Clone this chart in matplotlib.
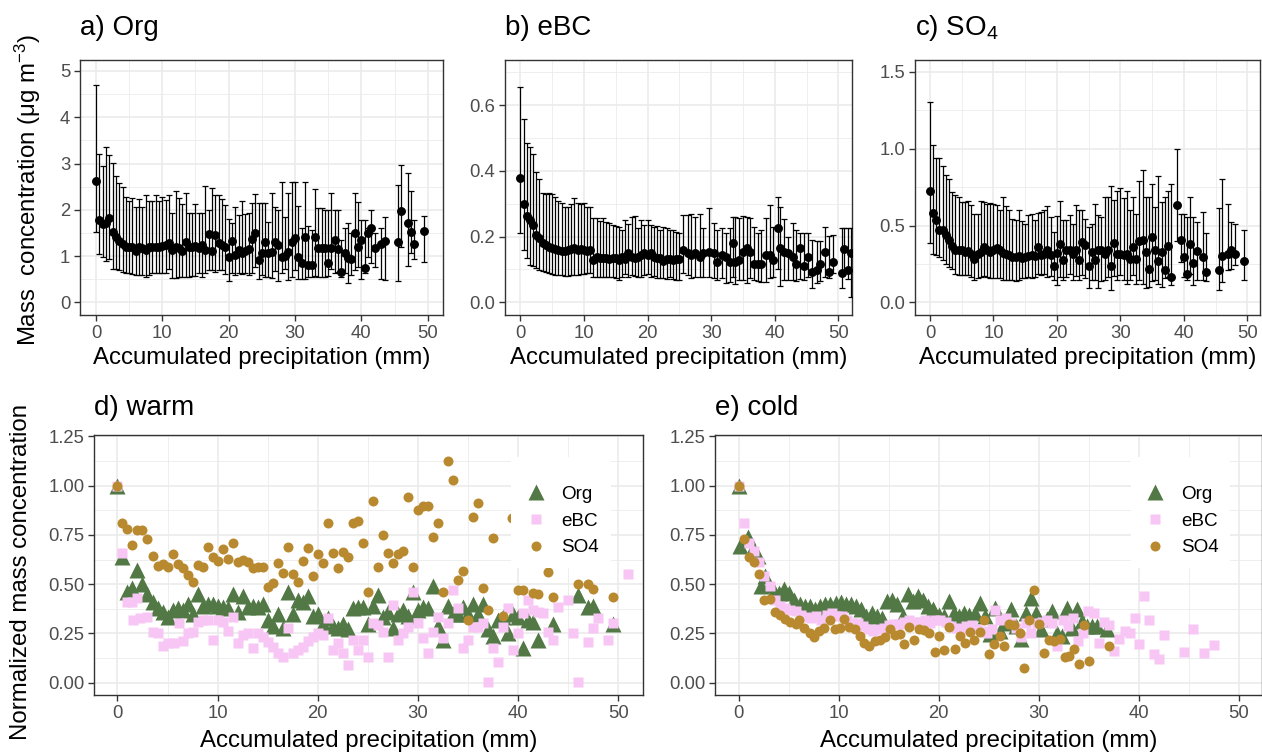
import matplotlib
matplotlib.use('Agg')
import numpy as np
import matplotlib.pyplot as plt
from matplotlib.patches import Rectangle
from matplotlib.ticker import MultipleLocator, FormatStrFormatter

plt.rcParams['font.family'] = ['Liberation Sans', 'DejaVu Sans']
plt.rcParams['mathtext.fontset'] = 'custom'
plt.rcParams['mathtext.rm'] = 'Liberation Sans'
plt.rcParams['mathtext.it'] = 'Liberation Sans:italic'

# ---------------- data: a) Org ----------------
a_x = [0, 0.5, 1, 1.5, 2, 2.5, 3, 3.5, 4, 4.5,
       5, 5.5, 6, 6.5, 7, 7.5, 8, 8.5, 9, 9.5,
       10, 10.5, 11, 11.5, 12, 12.5, 13, 13.5, 14, 14.5,
       15, 15.5, 16, 16.5, 17, 17.5, 18, 18.5, 19, 19.5,
       20, 20.5, 21, 21.5, 22, 22.5, 23, 23.5, 24, 24.5,
       25, 25.5, 26, 26.5, 27, 27.5, 28, 28.5, 29, 29.5,
       30, 30.5, 31, 31.5, 32, 32.5, 33, 33.5, 34, 34.5,
       35, 35.5, 36, 36.5, 37, 37.5, 38, 38.5, 39, 39.5,
       40, 40.5, 41, 41.5, 42, 43, 43.5, 45.5, 46, 47,
       47.5, 48, 49.5]
a_mean = [2.63, 1.77, 1.69, 1.72, 1.82, 1.53, 1.42, 1.33, 1.26, 1.20,
          1.19, 1.19, 1.10, 1.20, 1.17, 1.13, 1.20, 1.20, 1.19, 1.20,
          1.22, 1.24, 1.28, 1.13, 1.20, 1.17, 1.10, 1.31, 1.19, 1.19,
          1.22, 1.17, 1.24, 1.13, 1.48, 1.10, 1.46, 1.29, 1.24, 1.19,
          0.99, 1.33, 1.02, 1.13, 1.06, 1.10, 1.15, 1.36, 1.49, 0.91,
          1.06, 1.31, 1.07, 1.08, 1.31, 1.24, 0.99, 1.00, 1.09, 1.31,
          1.38, 0.99, 0.86, 1.42, 0.81, 0.81, 1.42, 1.17, 1.17, 1.17,
          0.86, 1.17, 1.35, 1.15, 0.66, 1.06, 0.95, 0.93, 1.49, 1.19,
          1.35, 0.75, 1.49, 1.61, 1.17, 1.25, 1.33, 1.31, 1.98, 1.72,
          1.51, 1.25, 1.55]
a_lo = [1.53, 1.04, 0.99, 0.90, 0.93, 0.73, 0.71, 0.70, 0.66, 0.64,
        0.63, 0.61, 0.59, 0.58, 0.59, 0.54, 0.59, 0.63, 0.64, 0.64,
        0.63, 0.64, 0.71, 0.52, 0.52, 0.54, 0.55, 0.55, 0.55, 0.57,
        0.57, 0.63, 0.55, 0.64, 0.70, 0.70, 0.66, 0.70, 0.70, 0.61,
        0.47, 0.63, 0.59, 0.63, 0.61, 0.63, 0.59, 0.64, 0.76, 0.50,
        0.59, 0.55, 0.55, 0.52, 0.68, 0.47, 0.63, 0.73, 0.48, 0.55,
        0.70, 0.50, 0.50, 0.50, 0.54, 0.54, 0.57, 0.55, 0.55, 0.55,
        0.57, 0.73, 0.64, 0.66, 0.55, 0.64, 0.41, 0.60, 0.70, 0.77,
        0.50, 0.64, 0.99, 0.84, 0.77, 0.50, 0.48, 0.47, 1.20, 0.79,
        1.06, 0.93, 0.88]
a_hi = [4.70, 3.21, 2.95, 3.35, 3.18, 3.02, 2.73, 2.57, 2.50, 2.28,
        2.18, 2.25, 2.05, 2.23, 2.07, 2.32, 2.19, 2.18, 2.32, 2.18,
        2.28, 2.21, 2.32, 1.92, 2.41, 2.25, 2.13, 2.36, 1.94, 1.94,
        2.13, 1.94, 1.94, 2.51, 2.00, 2.46, 2.32, 2.32, 2.23, 2.10,
        1.79, 1.71, 2.07, 1.89, 2.18, 1.91, 1.94, 2.15, 2.34, 2.15,
        2.14, 2.14, 1.74, 2.36, 2.07, 2.00, 2.61, 1.85, 2.36, 2.61,
        2.61, 2.08, 1.60, 2.61, 1.64, 1.56, 2.44, 2.04, 2.04, 2.00,
        2.00, 2.36, 2.00, 2.00, 1.35, 1.60, 1.71, 1.50, 2.37, 2.17,
        1.78, 1.78, 1.60, 2.00, 1.49, 1.60, 1.85, 2.54, 2.97, 2.80,
        2.41, 1.78, 1.87]

# ---------------- data: b) eBC ----------------
b_x = [0, 0.5, 1, 1.5, 2, 2.5, 3, 3.5, 4, 4.5,
       5, 5.5, 6, 6.5, 7, 7.5, 8, 8.5, 9, 9.5,
       10, 10.5, 11, 11.5, 12, 12.5, 13, 13.5, 14, 14.5,
       15, 15.5, 16, 16.5, 17, 17.5, 18, 18.5, 19, 19.5,
       20, 20.5, 21, 21.5, 22, 22.5, 23, 23.5, 24, 24.5,
       25,
       25.6, 26.3, 26.9, 27.5, 28.2, 28.8, 29.6, 30.4, 31.0, 31.7,
       32.3, 33.0, 33.5, 33.8, 34.4, 35.0, 35.6, 36.1, 36.7, 37.4,
       37.9, 38.6, 39.3, 39.8, 40.5, 40.8, 41.5, 42.1, 42.8, 43.4,
       44.0, 44.6, 45.3, 45.9, 46.6, 47.1, 47.9, 48.6, 49.1, 50.5,
       50.9, 51.5, 52.0]
b_mean = [.379, .299, .262, .250, .235, .205, .195, .179, .174, .169,
          .164, .161, .159, .156, .156, .159, .161, .164, .159, .161,
          .159, .157, .159, .129, .139, .134, .134, .134, .131, .134,
          .134, .129, .137, .131, .151, .139, .134, .139, .144, .149,
          .144, .151, .139, .134, .134, .127, .131, .131, .129, .131,
          .131,
          .159, .149, .144, .149, .139, .149, .154, .149, .124, .144,
          .139, .124, .179, .124, .129, .154, .164, .154, .116, .116,
          .116, .144, .144, .129, .227, .164, .154, .149, .139, .116,
          .164, .110, .139, .093, .098, .118, .154, .093, .124, .089,
          .163, .097, .150]
b_lo = [.212, .159, .134, .114, .110, .103, .098, .096, .093, .090,
        .086, .083, .083, .083, .080, .080, .083, .083, .083, .086,
        .086, .088, .088, .078, .078, .076, .076, .076, .076, .078,
        .073, .068, .078, .086, .078, .083, .080, .078, .076, .083,
        .086, .078, .080, .073, .073, .073, .070, .078, .070, .068,
        .068,
        .088, .083, .073, .076, .078, .076, .078, .073, .068, .073,
        .060, .063, .076, .055, .068, .068, .058, .073, .068, .066,
        .063, .063, .073, .078, .100, .050, .068, .068, .068, .066,
        .070, .068, .078, .043, .058, .066, .078, .073, .090, .043,
        .090, .070, .015]
b_hi = [.656, .556, .485, .473, .451, .397, .374, .331, .329, .333,
        .329, .321, .309, .301, .291, .291, .299, .316, .301, .299,
        .303, .291, .289, .255, .255, .248, .255, .245, .240, .235,
        .232, .230, .220, .250, .238, .260, .262, .225, .250, .235,
        .250, .235, .228, .232, .220, .230, .225, .220, .220, .215,
        .210,
        .265, .265, .268, .260, .270, .225, .286, .242, .220, .225,
        .212, .225, .260, .260, .255, .262, .260, .255, .230, .210,
        .220, .255, .296, .230, .319, .291, .252, .200, .240, .220,
        .210, .212, .212, .190, .185, .185, .230, .203, .205, .225,
        .225, .225, .225]

# ---------------- data: c) SO4 ----------------
c_x = [0, 0.5, 1, 1.5, 2, 2.5, 3, 3.5, 4, 4.5,
       5, 5.5, 6, 6.5, 7, 7.5, 8, 8.5, 9, 9.5,
       10, 10.5, 11, 11.5, 12, 12.5, 13, 13.5, 14, 14.5,
       15, 15.5, 16, 16.5, 17, 17.5, 18, 18.5, 19, 19.5,
       20, 20.5, 21, 21.5, 22, 22.5, 23, 23.5, 24, 24.5,
       25, 25.5, 26, 26.5, 27, 27.5, 28, 28.5, 29, 29.5,
       30, 30.5, 31, 31.5, 32, 32.5, 33, 33.5, 34, 34.5,
       35, 35.5, 36, 36.5, 37, 37.5, 38,
       39, 39.5, 40, 40.5, 41, 41.5, 42, 43, 43.5, 45.5,
       46, 47, 47.5, 48, 49.5]
c_mean = [.724, .581, .534, .469, .469, .437, .404, .365, .344, .339,
          .339, .329, .335, .313, .285, .313, .329, .361, .339, .329,
          .339, .357, .339, .322, .318, .307, .296, .296, .300, .292,
          .296, .300, .307, .300, .361, .307, .318, .344, .307, .236,
          .322, .383, .275, .339, .344, .318, .344, .279, .393, .372,
          .236, .329, .279, .339, .344, .318, .344, .236, .387, .313,
          .318, .307, .318, .285, .361, .285, .400, .404, .329, .220,
          .426, .339, .270, .329, .214, .365, .166,
          .631, .408, .296, .188, .383, .259, .333, .296, .199, .214,
          .300, .313, .339, .313, .270]
c_lo = [.387, .313, .307, .296, .274, .249, .231, .220, .184, .177,
        .177, .177, .177, .166, .149, .156, .166, .171, .166, .156,
        .162, .156, .162, .149, .149, .145, .145, .140, .145, .156,
        .156, .166, .162, .166, .184, .177, .184, .166, .171, .145,
        .112, .166, .149, .166, .188, .145, .171, .145, .177, .162,
        .097, .145, .149, .097, .140, .149, .166, .084, .171, .145,
        .177, .145, .123, .145, .177, .123, .145, .123, .097, .102,
        .140, .145, .123, .102, .162, .166, .112,
        .400, .264, .166, .145, .184, .112, .145, .145, .140, .084,
        .134, .210, .220, .242, .149]
c_hi = [1.305, 1.024, .940, .940, .890, .832, .804, .718, .702, .689,
        .653, .653, .659, .631, .573, .573, .659, .653, .638, .646,
        .638, .631, .603, .685, .625, .599, .545, .538, .603, .530,
        .508, .566, .573, .534, .581, .588, .599, .625, .555, .458,
        .560, .659, .534, .538, .566, .512, .631, .599, .603, .545,
        .491, .512, .638, .566, .555, .685, .689, .761, .664, .728,
        .746, .681, .728, .599, .685, .577, .793, .862, .685, .685,
        .772, .620, .826, .653, .685, .728, .772,
        .998, .577, .577, .555, .685, .555, .523, .588, .452, .616,
        .804, .642, .523, .512, .473]

# ---------------- data: d) warm (normalized) ----------------
d_org_x = [0, 0.5, 1, 1.5, 2, 2.5, 3, 3.5, 4, 4.5,
           5, 5.5, 6, 6.5, 7, 7.5, 8, 8.5, 9, 9.5,
           10, 10.5, 11, 11.5, 12, 12.5, 13, 13.5, 14, 14.5,
           15, 15.5, 16, 16.5, 17, 17.5, 18, 18.5, 19, 19.5,
           20, 20.5, 21, 21.5, 22, 22.5, 23, 23.5, 24, 24.5,
           25, 25.5, 26, 26.5, 27, 27.5, 28, 28.5, 29, 29.5,
           30, 30.5, 31, 31.5, 32, 32.5, 33, 33.5, 34, 34.5,
           35, 35.5, 36, 36.5, 37, 37.5, 38, 38.5, 39, 39.5,
           40, 40.5, 41, 41.5, 42,
           43.5, 46, 47, 47.5, 49.5]
d_org_y = [1.00, 0.64, 0.46, 0.48, 0.57, 0.50, 0.45, 0.41, 0.38, 0.36,
           0.335, 0.37, 0.38, 0.37, 0.40, 0.35, 0.45, 0.39, 0.40, 0.40,
           0.39, 0.385, 0.38, 0.45, 0.36, 0.44, 0.385, 0.39, 0.385, 0.40,
           0.32, 0.29, 0.35, 0.28, 0.46, 0.35, 0.42, 0.41, 0.44, 0.34,
           0.35, 0.30, 0.33, 0.29, 0.28, 0.30, 0.275, 0.38, 0.385, 0.385,
           0.30, 0.39, 0.445, 0.335, 0.36, 0.28, 0.35, 0.37, 0.34, 0.46,
           0.37, 0.385, 0.38, 0.49, 0.29, 0.215, 0.39, 0.35, 0.35, 0.385,
           0.35, 0.40, 0.35, 0.40, 0.275, 0.235, 0.32, 0.335, 0.25, 0.35,
           0.335, 0.175, 0.32, 0.31, 0.215,
           0.30, 0.445, 0.385, 0.39, 0.30]
d_ebc_x = [0, 0.5, 1.0, 1.5, 2.0, 1.57, 2.21, 2.93, 3.57, 4.07,
           4.54, 5.07, 5.64, 6.14, 6.57, 7.04, 7.57, 8.0, 8.57, 9.07,
           9.54, 10.0, 10.5, 11.0, 11.5, 12.0, 12.5, 13.0, 13.5, 14.0,
           14.5, 15.07, 15.5, 16.0, 16.5, 17.0, 17.5, 18.0, 18.5, 19.0,
           19.5, 20.0, 20.5, 21.0, 21.5, 22.0, 22.5, 23.0, 23.5, 24.0,
           24.5, 25.0, 25.5, 26.0, 26.5, 27.0, 27.5, 28.0, 28.5, 29.0,
           29.5, 30.0, 30.5, 31.0, 31.5, 32.0, 32.5, 33.0, 33.5, 34.0,
           34.5, 35.0, 35.5, 36.0, 36.5, 37.0, 37.5, 38.0, 38.5, 39.0,
           39.5, 40.0, 40.5, 41.0, 41.5, 42.0, 42.5, 43.0, 43.5, 44.0,
           45.0, 45.5, 46.0, 47.0, 47.5, 48.0, 49.0, 49.5, 50.96]
d_ebc_y = [1.00, 0.657, 0.411, 0.411, 0.428, 0.318, 0.327, 0.335, 0.259, 0.250,
           0.186, 0.200, 0.203, 0.301, 0.213, 0.250, 0.259, 0.310, 0.318, 0.318,
           0.217, 0.318, 0.310, 0.264, 0.335, 0.200, 0.242, 0.250, 0.174, 0.250,
           0.234, 0.208, 0.183, 0.149, 0.132, 0.276, 0.149, 0.166, 0.183, 0.213,
           0.234, 0.250, 0.242, 0.327, 0.166, 0.200, 0.152, 0.090, 0.217, 0.166,
           0.217, 0.132, 0.301, 0.293, 0.259, 0.129, 0.394, 0.217, 0.250, 0.284,
           0.462, 0.301, 0.225, 0.149, 0.259, 0.335, 0.225, 0.301, 0.470, 0.377,
           0.174, 0.217, 0.284, 0.284, 0.301, 0.005, 0.174, 0.107, 0.284, 0.377,
           0.166, 0.250, 0.352, 0.420, 0.369, 0.360, 0.355, 0.259, 0.217, 0.386,
           0.420, 0.250, 0.005, 0.208, 0.276, 0.327, 0.217, 0.301, 0.552]
d_so4_x = [0, 0.5, 1.0, 1.5, 2.0, 2.5, 3.0, 3.5, 4.0, 4.5,
           5.0, 5.5, 6.0, 6.5, 7.0, 7.5, 8.0, 8.5, 9.0, 9.5,
           10.0, 10.5, 11.0, 11.5, 12.0, 12.5, 13.0, 13.5, 14.0, 14.5,
           15.0, 15.5, 16.0, 16.5, 17.0, 17.5, 18.0, 18.5, 19.0, 19.5,
           20.0, 20.5, 21.0, 21.5, 22.0, 22.5, 23.0, 23.5, 24.0, 24.5,
           25.0, 25.5, 26.0, 26.5, 27.0, 27.5, 28.0, 28.5, 29.0, 29.5,
           30.0, 30.5, 31.0, 31.5, 32.0, 32.5, 33.0, 33.5, 34.0, 34.5,
           35.0, 35.5, 36.0, 36.5, 37.0, 37.5, 38.5, 39.4, 40.0, 40.5,
           41.5, 42.0, 43.0, 43.5, 46.0, 47.0, 47.5, 49.5]
d_so4_y = [1.00, 0.812, 0.778, 0.699, 0.775, 0.775, 0.728, 0.643, 0.592, 0.602,
           0.589, 0.651, 0.602, 0.580, 0.547, 0.513, 0.597, 0.585, 0.690, 0.636,
           0.619, 0.677, 0.626, 0.711, 0.614, 0.623, 0.614, 0.580, 0.589, 0.585,
           0.487, 0.508, 0.606, 0.555, 0.687, 0.552, 0.513, 0.619, 0.682, 0.541,
           0.653, 0.609, 0.809, 0.657, 0.580, 0.665, 0.640, 0.809, 0.822, 0.707,
           0.459, 0.922, 0.589, 0.750, 0.660, 0.606, 0.653, 0.670, 0.944, 0.589,
           0.876, 0.897, 0.897, 0.741, 0.809, 0.462, 1.125, 1.029, 0.521, 0.569,
           0.318, 0.843, 0.910, 0.479, 0.369, 0.736, 0.340, 0.834, 0.470, 0.470,
           0.457, 0.450, 0.563, 0.433, 0.499, 0.499, 0.474, 0.433]

# ---------------- data: e) cold (normalized) ----------------
e_org_x = [0, 0.15, 0.99, 1.47, 1.99, 2.21, 2.65, 3.01, 3.57, 4.04,
           4.56, 5.07, 5.59, 6.10, 6.62, 7.13, 7.65, 8.16, 8.68, 9.19,
           9.71, 10.22, 10.74, 11.25, 11.76, 12.28, 12.79, 13.31, 13.82, 14.34,
           14.85, 15.37, 15.88, 16.40, 16.91, 17.43, 17.94, 18.46, 18.97, 19.49,
           20.0, 20.51, 21.03, 21.54, 22.06, 22.57, 23.09, 23.60, 24.12, 24.63,
           25.15, 25.66, 26.18, 26.69, 27.21, 27.72, 28.24, 28.75, 29.26, 29.78,
           30.29, 30.81, 31.32, 31.84, 32.35, 32.87, 33.31, 33.82, 34.34, 34.85,
           35.37, 35.88, 36.84]
e_org_y = [1.00, 0.693, 0.740, 0.684, 0.642, 0.490, 0.541, 0.498, 0.465, 0.456,
           0.473, 0.456, 0.422, 0.397, 0.389, 0.389, 0.375, 0.389, 0.397, 0.397,
           0.405, 0.409, 0.397, 0.397, 0.389, 0.372, 0.338, 0.355, 0.338, 0.329,
           0.414, 0.422, 0.397, 0.338, 0.448, 0.414, 0.439, 0.422, 0.389, 0.372,
           0.346, 0.338, 0.414, 0.355, 0.338, 0.355, 0.346, 0.355, 0.405, 0.338,
           0.245, 0.380, 0.262, 0.304, 0.372, 0.287, 0.220, 0.355, 0.431, 0.355,
           0.270, 0.321, 0.363, 0.253, 0.236, 0.380, 0.279, 0.372, 0.313, 0.287,
           0.287, 0.287, 0.270]
e_ebc_x = [0, 0.52, 1.04, 1.55, 2.07, 2.59, 3.11, 3.62, 4.14, 4.66,
           5.18, 5.70, 6.21, 6.73, 7.25, 7.77, 8.28, 8.80, 9.32, 9.84,
           10.36, 10.87, 11.39, 11.91, 12.43, 12.94, 13.46, 13.98, 14.50, 15.01,
           15.53, 16.05, 16.57, 17.09, 17.60, 18.12, 18.64, 19.16, 19.67, 20.19,
           20.71, 21.23, 21.75, 22.26, 22.78, 23.30, 23.82, 24.33, 24.85, 25.37,
           25.67, 26.18, 26.70, 27.22, 27.74, 28.25, 28.77, 29.29, 29.81, 30.33,
           30.84, 31.36, 31.88, 32.40, 32.91, 33.43, 33.95, 34.47, 34.99, 35.50,
           36.02, 36.54, 37.06, 37.57, 38.09, 38.61, 39.13, 39.64, 40.01, 40.53,
           41.05, 41.57, 42.09, 42.53, 44.53, 45.49, 46.52, 47.56]
e_ebc_y = [1.00, 0.81, 0.71, 0.67, 0.61, 0.54, 0.49, 0.42, 0.39, 0.38,
           0.37, 0.365, 0.345, 0.335, 0.33, 0.34, 0.32, 0.345, 0.355, 0.34,
           0.34, 0.32, 0.305, 0.305, 0.29, 0.27, 0.26, 0.275, 0.28, 0.295,
           0.30, 0.30, 0.31, 0.32, 0.31, 0.31, 0.32, 0.305, 0.32, 0.32,
           0.31, 0.29, 0.28, 0.27, 0.29, 0.295, 0.27, 0.26, 0.25, 0.27,
           0.37, 0.32, 0.33, 0.305, 0.28, 0.23, 0.305, 0.25, 0.305, 0.31,
           0.32, 0.305, 0.185, 0.32, 0.29, 0.33, 0.21, 0.25, 0.365, 0.355,
           0.20, 0.31, 0.295, 0.16, 0.22, 0.26, 0.25, 0.33, 0.195, 0.44,
           0.32, 0.145, 0.12, 0.24, 0.155, 0.275, 0.15, 0.19]
e_so4_x = [0, 0.52, 1.04, 1.55, 2.07, 2.59, 3.11, 3.62, 4.14, 4.66,
           5.18, 5.70, 6.07, 6.58, 7.10, 7.54, 8.06, 8.58, 9.10, 9.62,
           10.13, 10.58, 11.09, 11.61, 12.13, 12.57, 13.09, 13.61, 14.13, 14.64,
           15.16, 15.61, 16.12, 16.57, 17.01, 17.53, 18.05, 18.57, 19.08, 19.60,
           20.04, 20.56, 21.08, 21.60, 22.12, 22.63, 23.15, 23.59, 24.11, 24.56,
           25.07, 25.59, 26.11, 26.55, 27.07, 27.59, 28.11, 28.55, 29.07, 29.59,
           30.03, 30.55, 31.07, 31.58, 32.10, 32.62, 33.06, 33.58, 34.02, 34.54,
           35.06, 37.06]
e_so4_y = [1.00, 0.73, 0.64, 0.61, 0.55, 0.42, 0.425, 0.36, 0.345, 0.325,
           0.31, 0.30, 0.32, 0.28, 0.25, 0.23, 0.26, 0.28, 0.32, 0.27,
           0.28, 0.325, 0.285, 0.275, 0.235, 0.20, 0.185, 0.21, 0.215, 0.23,
           0.27, 0.24, 0.245, 0.195, 0.285, 0.215, 0.27, 0.265, 0.25, 0.155,
           0.235, 0.165, 0.285, 0.17, 0.235, 0.20, 0.255, 0.215, 0.255, 0.32,
           0.145, 0.195, 0.235, 0.185, 0.30, 0.295, 0.25, 0.075, 0.32, 0.47,
           0.30, 0.15, 0.215, 0.21, 0.22, 0.13, 0.135, 0.17, 0.095, 0.295,
           0.11, 0.185]

legend_labels = ['Org', 'eBC', 'SO4']
x_title = 'Accumulated precipitation (mm)'

# ---------------- figure ----------------
W, H = 1262, 752
fig = plt.figure(figsize=(W / 100, H / 100), dpi=100)


def px_axes(l, t, r, b):
    return fig.add_axes([l / W, 1 - b / H, (r - l) / W, (b - t) / H])


GRID = '#ebebeb'
TXT = '#4d4d4d'
BORDER = '#333333'
C_ORG = '#517845'
C_EBC = '#f7c6f4'
C_SO4 = '#b8892f'


def style(ax, xlim, ylim, ymaj, fmt):
    ax.set_xlim(xlim)
    ax.set_ylim(ylim)
    ax.xaxis.set_major_locator(MultipleLocator(10))
    ax.xaxis.set_minor_locator(MultipleLocator(5))
    ax.yaxis.set_major_locator(MultipleLocator(ymaj))
    ax.yaxis.set_minor_locator(MultipleLocator(ymaj / 2))
    ax.yaxis.set_major_formatter(FormatStrFormatter(fmt))
    ax.grid(True, which='major', color=GRID, lw=1.2)
    ax.grid(True, which='minor', color=GRID, lw=0.6)
    ax.set_axisbelow(True)
    for s in ax.spines.values():
        s.set_color(BORDER)
        s.set_linewidth(1.0)
    ax.tick_params(which='major', length=4, width=1.0, color=BORDER,
                   labelcolor=TXT, labelsize=13.3, pad=3)
    ax.tick_params(which='minor', length=0)


def errpanel(ax, x, m, lo, hi):
    m = np.asarray(m)
    yerr = [m - np.asarray(lo), np.asarray(hi) - m]
    ax.errorbar(x, m, yerr=yerr, fmt='o', color='black', ms=5.4,
                elinewidth=0.9, capsize=1.9, capthick=0.9, zorder=3)


# top row
axa = px_axes(80, 60, 443, 315)
style(axa, (-2.41, 52.31), (-0.274, 5.237), 1, '%d')
errpanel(axa, a_x, a_mean, a_lo, a_hi)

axb = px_axes(505, 60, 852, 315)
style(axb, (-2.41, 52.15), (-0.0386, 0.7369), 0.2, '%.1f')
errpanel(axb, b_x, b_mean, b_lo, b_hi)

axc = px_axes(915, 60, 1260, 315)
style(axc, (-2.36, 52.0), (-0.082, 1.578), 0.5, '%.1f')
errpanel(axc, c_x, c_mean, c_lo, c_hi)


def normpanel(ax, ox, oy, bx, by, sx, sy):
    h1, = ax.plot(ox, oy, ls='none', marker='^', ms=11, color=C_ORG, mec='none', zorder=3)
    h2, = ax.plot(bx, by, ls='none', marker='s', ms=7.4, color=C_EBC, mec='none', zorder=3)
    h3, = ax.plot(sx, sy, ls='none', marker='o', ms=7.2, color=C_SO4, mec='none', zorder=3)
    ax.add_patch(Rectangle((0.760, 0.488), 0.182, 0.427, transform=ax.transAxes,
                           facecolor='white', edgecolor='none', zorder=4))
    leg = ax.legend([h1, h2, h3], legend_labels, loc='upper left',
                    bbox_to_anchor=(0.788, 0.805), frameon=False, fontsize=13.6,
                    handlelength=1.0, handletextpad=0.85, labelspacing=0.5,
                    borderpad=0, borderaxespad=0)
    leg.set_zorder(5)


axd = px_axes(94, 435, 643, 695)
style(axd, (-2.34, 52.46), (-0.0624, 1.257), 0.25, '%.2f')
normpanel(axd, d_org_x, d_org_y, d_ebc_x, d_ebc_y, d_so4_x, d_so4_y)

axe = px_axes(715, 435, 1262, 695)
style(axe, (-2.35, 52.35), (-0.0624, 1.257), 0.25, '%.2f')
normpanel(axe, e_org_x, e_org_y, e_ebc_x, e_ebc_y, e_so4_x, e_so4_y)

# titles
TS = 20
fig.text(80 / W, 1 - 28 / H, 'a) Org', fontsize=TS, ha='left', va='center')
fig.text(505 / W, 1 - 28 / H, 'b) eBC', fontsize=TS, ha='left', va='center')
fig.text(915 / W, 1 - 28 / H, 'c) SO$_4$', fontsize=TS, ha='left', va='center')
fig.text(94 / W, 1 - 408 / H, 'd) warm', fontsize=TS, ha='left', va='center')
fig.text(715 / W, 1 - 408 / H, 'e) cold', fontsize=TS, ha='left', va='center')

# axis titles
AS = 17.3
for l, r in [(80, 443), (505, 852), (915, 1260)]:
    fig.text((l + r) / 2 / W, 1 - 358 / H, x_title, fontsize=AS, ha='center', va='center')
for l, r in [(94, 643), (715, 1262)]:
    fig.text((l + r) / 2 / W, 1 - 741 / H, x_title, fontsize=AS, ha='center', va='center')
fig.text(28 / W, 1 - 190 / H, 'Mass  concentration (μg m$^{-3}$)', fontsize=AS,
         rotation=90, ha='center', va='center')
fig.text(21 / W, 1 - 572 / H, 'Normalized mass concentration', fontsize=AS,
         rotation=90, ha='center', va='center')

fig.savefig('out.png', dpi=100, facecolor='white')
